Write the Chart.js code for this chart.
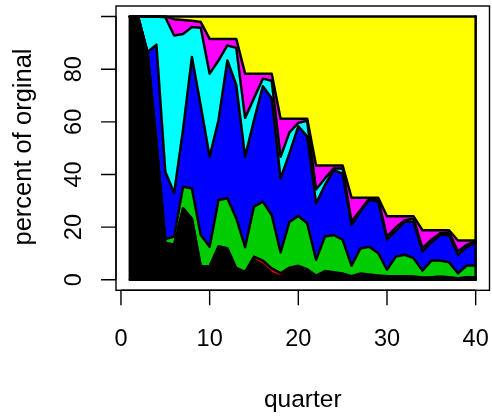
<!DOCTYPE html>
<html>
<head>
<meta charset="utf-8">
<script src="https://cdn.jsdelivr.net/npm/chart.js@4.4.0/dist/chart.umd.min.js"></script>
<style>
html,body{margin:0;padding:0;background:#fff;}
#c{display:block;}
</style>
</head>
<body>
<canvas id="c" width="492" height="419"></canvas>
<script>
const quarters = [1,2,3,4,5,6,7,8,9,10,11,12,13,14,15,16,17,18,19,20,21,22,23,24,25,26,27,28,29,30,31,32,33,34,35,36,37,38,39,40];
const black   = [100,99,86,52,14,13.3,27.1,23.2,5,5, 12.4,11.1,3.5,2.2,7.6,5.7,2.5,1.3,3.6,4.4, 3.2,1.1,2.9,2.4,1.6,0.8,2,1.6,1.4,1, 1,1,1,0.6,0.8,1,0.8,0.4,0.8,0.8];
const red     = [0,0,0,0,0,0,0,0,0,0, 0.3,0.9,1,0.8,1.2,1.6,1.8,1.2,1,0.9, 0.8,0.5,0.4,0.5,0.8,0.6,0.4,0.4,0.2,0.4, 0.3,0.3,0.2,0.3,0.2,0.2,0.2,0.2,0.2,0.2];
const green   = [0,0,0,0,1.5,3.1,8.2,11.5,12,7.5, 17.6,19,18.9,9.4,19,22.4,20.3,7.9,17.4,18.9, 17.5,6,13.1,14.1,12.8,4,9.5,10.5,8.6,2.4, 7.5,8.2,7,2.6,6.3,6.1,5.6,1.9,4.4,4.4];
const blue    = [0,0,0.5,37.3,25.5,16.6,21.7,49.9,49,34.2, 30.3,52.3,50.6,34.3,32.8,43.8,44.4,28.1,26,34.1, 33,21.4,19.6,24.7,25,15.4,14,17.8,19.5,11.5, 9.9,12.5,13.8,7.3,6.8,9.7,10.4,7,7,8.6];
const cyan    = [0,1,13.5,10.7,58.7,59.8,36.4,11.4,29.7,31.6, 22.7,5.7,14.1,14.8,8.4,2.9,6.6,8.2,8,1.3, 5.9,5.3,2.5,0.6,2.1,1.3,0.6,0.5,0.8,1.1, 1.2,0.6,1.2,1.2,1.1,0.7,1,1.3,0.9,0.6];
const magenta = [0,0,0,0,0.3,6.2,5.3,2.4,2.2,13.2, 8.2,2.5,3.4,16.8,9.3,1.9,2.7,14.5,5.2,1.6, 0.8,9.1,4.9,1.1,1.1,9.1,4.7,0.4,0.7,7.7, 4.2,1.5,0.9,6.8,3.6,1.1,0.8,4.1,1.6,0.3];
const yellow  = [0,0,0,0,0,1,1.3,1.6,2.1,8.5, 8.5,8.5,8.5,21.7,21.7,21.7,21.7,38.8,38.8,38.8, 38.8,56.6,56.6,56.6,56.6,68.8,68.8,68.8,68.8,75.9, 75.9,75.9,75.9,81.2,81.2,81.2,81.2,85.1,85.1,85.1];

const xTicks = [0,10,20,30,40];
const yTicks = [0,20,40,60,80,100];
const yTickLabels = ['0','20','40','60','80',''];
const xTitle = 'quarter';
const yTitle = 'percent of orginal';

const seriesList = [
  {name:'black', data:black, color:'#000000'},
  {name:'red', data:red, color:'#FF0000'},
  {name:'green', data:green, color:'#00CD00'},
  {name:'blue', data:blue, color:'#0000FF'},
  {name:'cyan', data:cyan, color:'#00FFFF'},
  {name:'magenta', data:magenta, color:'#FF00FF'},
  {name:'yellow', data:yellow, color:'#FFFF00'}
];

const FAM = '"Liberation Sans", Arial, sans-serif';

const rAxes = {
  id: 'rAxes',
  afterDraw(chart) {
    const {ctx, chartArea: a, scales: {x, y}} = chart;
    ctx.save();
    ctx.strokeStyle = '#000';
    ctx.lineWidth = 2.5;
    ctx.lineCap = 'round';
    [quarters[0], quarters[quarters.length-1]].forEach(q => {
      const px = x.getPixelForValue(q);
      ctx.beginPath();
      ctx.moveTo(px, y.getPixelForValue(0));
      ctx.lineTo(px, y.getPixelForValue(100));
      ctx.stroke();
    });
    ctx.beginPath();
    ctx.moveTo(x.getPixelForValue(quarters[0]), y.getPixelForValue(0));
    ctx.lineTo(x.getPixelForValue(quarters[quarters.length-1]), y.getPixelForValue(0));
    ctx.stroke();

    ctx.lineCap = 'butt';
    ctx.lineWidth = 1.4;
    ctx.strokeRect(a.left, a.top, a.right - a.left, a.bottom - a.top);

    const tl = 15;
    ctx.beginPath();
    yTicks.forEach(v => {
      const py = y.getPixelForValue(v);
      ctx.moveTo(a.left - tl, py);
      ctx.lineTo(a.left, py);
    });
    ctx.moveTo(a.left, y.getPixelForValue(yTicks[0]));
    ctx.lineTo(a.left, y.getPixelForValue(yTicks[yTicks.length-1]));
    xTicks.forEach(v => {
      const px = x.getPixelForValue(v);
      ctx.moveTo(px, a.bottom);
      ctx.lineTo(px, a.bottom + tl);
    });
    ctx.moveTo(x.getPixelForValue(xTicks[0]), a.bottom);
    ctx.lineTo(x.getPixelForValue(xTicks[xTicks.length-1]), a.bottom);
    ctx.stroke();

    ctx.fillStyle = '#000';
    ctx.textAlign = 'center';
    ctx.textBaseline = 'middle';
    ctx.font = '23.5px ' + FAM;
    xTicks.forEach(v => {
      ctx.fillText(String(v), x.getPixelForValue(v), 340);
    });
    yTicks.forEach((v, i) => {
      const py = y.getPixelForValue(v);
      ctx.save();
      ctx.translate(75, py);
      ctx.rotate(-Math.PI / 2);
      ctx.fillText(yTickLabels[i], 0, 0);
      ctx.restore();
    });
    ctx.font = '24.5px ' + FAM;
    ctx.fillText(xTitle, (a.left + a.right) / 2, 400);
    ctx.font = '25.5px ' + FAM;
    ctx.save();
    ctx.translate(24, 147);
    ctx.rotate(-Math.PI / 2);
    ctx.fillText(yTitle, 0, 0);
    ctx.restore();
    ctx.restore();
  }
};

const datasets = seriesList.map((s, i) => ({
  label: s.name,
  data: quarters.map((q, j) => ({x: q, y: s.data[j]})),
  backgroundColor: s.color,
  borderColor: '#000000',
  borderWidth: 2.5,
  borderJoinStyle: 'round',
  borderCapStyle: 'round',
  pointRadius: 0,
  tension: 0,
  fill: i === 0 ? 'origin' : '-1'
}));

new Chart(document.getElementById('c'), {
  type: 'line',
  data: { datasets },
  options: {
    responsive: false,
    animation: false,
    devicePixelRatio: 1,
    layout: { padding: { left: 116, right: 2.5, top: 6, bottom: 128.7 } },
    plugins: {
      legend: { display: false },
      tooltip: { enabled: false },
      filler: { drawTime: 'beforeDatasetsDraw' }
    },
    scales: {
      x: { type: 'linear', min: -0.56, max: 41.56, display: false },
      y: { stacked: true, min: -4, max: 104, display: false }
    }
  },
  plugins: [rAxes]
});
</script>
</body>
</html>
